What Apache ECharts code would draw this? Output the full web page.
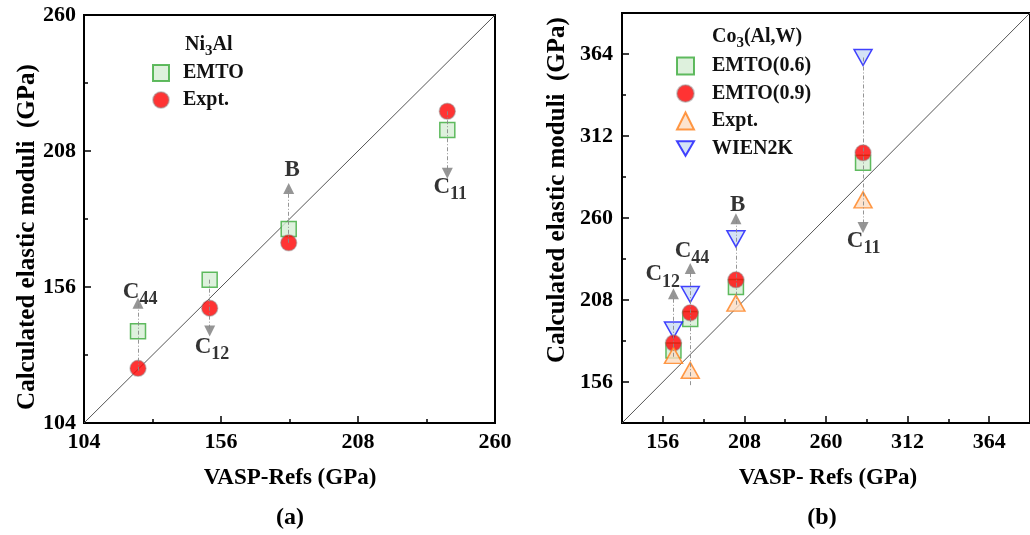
<!DOCTYPE html>
<html>
<head>
<meta charset="utf-8">
<script src="https://cdn.jsdelivr.net/npm/echarts@6/dist/echarts.min.js"></script>
<style>
html,body{margin:0;padding:0;background:#fff;}
#chart{width:1030px;height:535px;}
</style>
</head>
<body>
<div id="chart"></div>
<script>
// ---------- data: panel (a) Ni3Al ----------
const leftTicks = [104, 156, 208, 260];
const leftX = [124.5, 151.7, 181.7, 241.9];
const leftEMTO = [139.1, 158.8, 178.2, 216.0];
const leftExpt = [124.9, 147.9, 172.9, 223.2];
const leftArrowFrom = [124.0, 158.8, 172.9, 223.2];
const leftArrowTo = [149.8, 139.2, 193.7, 199.5];
const leftLabelMain = ['C', 'C', 'B', 'C'];
const leftLabelSub = ['44', '12', '', '11'];
const leftLabelX = [125.3, 152.6, 183.0, 243.0];
const leftLabelY = [154.2, 133.2, 200.7, 194.4];

// ---------- data: panel (b) Co3(Al,W) ----------
const rightMajorTicks = [156, 208, 260, 312, 364];
const rightMinorTicks = [182, 234, 286, 338];
const rightX = [162.8, 173.5, 202.6, 283.6];
const rightEMTO06 = [176.0, 196.0, 216.2, 295.0];
const rightEMTO09 = [180.7, 199.9, 220.8, 301.3];
const rightExpt = [172.9, 163.4, 206.0, 271.5];
const rightWIEN = [189.0, 211.5, 246.8, 361.8];
const rightArrowFrom = [172.0, 154.0, 205.0, 361.8];
const rightArrowTo = [212.0, 228.0, 259.6, 254.0];
const rightLabelMain = ['C', 'C', 'B', 'C'];
const rightLabelSub = ['12', '44', '', '11'];
const rightLabelX = [156.0, 174.6, 203.7, 284.0];
const rightLabelY = [224.2, 239.0, 268.0, 245.3];

const FONT = 'Liberation Serif';

const pairs = (xs, ys) => xs.map((x, i) => [x, ys[i]]);

function arrowSeries(xs, from, to, xi) {
  return {
    type: 'lines', coordinateSystem: 'cartesian2d', xAxisIndex: xi, yAxisIndex: xi === 0 ? 0 : 1,
    z: 8, silent: true,
    symbol: ['none', 'triangle'], symbolSize: [6, 11],
    lineStyle: { color: '#8a8a8a', width: 1, type: [4, 2, 1, 2], opacity: 0.9 },
    data: xs.map((x, i) => ({ coords: [[x, from[i]], [x, to[i]]] }))
  };
}

function labelSeries(xs, ys, mains, subs, xi) {
  return {
    type: 'scatter', xAxisIndex: xi, yAxisIndex: xi === 0 ? 0 : 1, z: 9, silent: true,
    symbolSize: 1, itemStyle: { color: 'rgba(0,0,0,0)' },
    data: pairs(xs, ys),
    label: {
      show: true, position: 'inside',
      formatter: p => '{m|' + mains[p.dataIndex] + '}' + (subs[p.dataIndex] ? '{s|' + subs[p.dataIndex] + '}' : ''),
      rich: {
        m: { fontFamily: FONT, fontWeight: 'bold', fontSize: 23, color: '#000' },
        s: { fontFamily: FONT, fontWeight: 'bold', fontSize: 18, color: '#000', padding: [15, 0, 0, 0] }
      }
    }
  };
}

const squareStyle = { color: '#d6edd5', borderColor: '#3aaa3a', borderWidth: 1.5 };
const circleStyle = { color: '#ff0000', borderColor: 'rgba(140,140,140,0.55)', borderWidth: 1.5 };
const triUpStyle = { color: '#fbdcc2', borderColor: '#ff7f1a', borderWidth: 1.5 };
const triDownStyle = { color: '#c9dbf3', borderColor: '#1414ff', borderWidth: 1.5 };
const TRI_DOWN = 'path://M0,0L20,0L10,17.3Z';

const axisCommon = {
  axisLine: { show: true, onZero: false, lineStyle: { color: '#000', width: 2 } },
  splitLine: { show: false },
  axisLabel: { fontFamily: FONT, fontWeight: 'bold', fontSize: 22, color: '#000' }
};

const option = {
  animation: false,
  backgroundColor: '#fff',
  grid: [
    { left: 84, top: 15, width: 411, height: 408, show: true, borderColor: '#000', borderWidth: 2, backgroundColor: 'transparent' },
    { left: 622, top: 13, width: 411, height: 410, show: true, borderColor: '#000', borderWidth: 2, backgroundColor: 'transparent' }
  ],
  xAxis: [
    Object.assign({}, axisCommon, {
      type: 'value', gridIndex: 0, min: 104, max: 260, interval: 52,
      axisTick: { show: true, inside: true, length: 7, lineStyle: { color: '#000', width: 1.5 } },
      minorTick: { show: true, splitNumber: 2, length: 4, lineStyle: { color: '#000', width: 1.5 } },
      axisLabel: Object.assign({}, axisCommon.axisLabel, { margin: 8, customValues: leftTicks })
    }),
    Object.assign({}, axisCommon, {
      type: 'value', gridIndex: 1, min: 130, max: 390,
      axisTick: { show: true, inside: true, length: 7, customValues: rightMajorTicks, lineStyle: { color: '#000', width: 1.5 } },
      axisLabel: Object.assign({}, axisCommon.axisLabel, { margin: 8, customValues: rightMajorTicks })
    }),
    {
      type: 'value', gridIndex: 1, min: 130, max: 390, position: 'bottom',
      axisLine: { show: false }, splitLine: { show: false }, axisLabel: { show: false },
      axisTick: { show: true, inside: true, length: 4, customValues: rightMinorTicks, lineStyle: { color: '#000', width: 1.5 } }
    }
  ],
  yAxis: [
    Object.assign({}, axisCommon, {
      type: 'value', gridIndex: 0, min: 104, max: 260, interval: 52,
      axisTick: { show: true, inside: true, length: 7, lineStyle: { color: '#000', width: 1.5 } },
      minorTick: { show: true, splitNumber: 2, length: 4, lineStyle: { color: '#000', width: 1.5 } },
      axisLabel: Object.assign({}, axisCommon.axisLabel, { margin: 8, customValues: leftTicks })
    }),
    Object.assign({}, axisCommon, {
      type: 'value', gridIndex: 1, min: 130, max: 390,
      axisTick: { show: true, inside: true, length: 7, customValues: rightMajorTicks, lineStyle: { color: '#000', width: 1.5 } },
      axisLabel: Object.assign({}, axisCommon.axisLabel, { margin: 9, customValues: rightMajorTicks })
    }),
    {
      type: 'value', gridIndex: 1, min: 130, max: 390, position: 'left',
      axisLine: { show: false }, splitLine: { show: false }, axisLabel: { show: false },
      axisTick: { show: true, inside: true, length: 4, customValues: rightMinorTicks, lineStyle: { color: '#000', width: 1.5 } }
    }
  ],
  legend: [
    {
      left: 147, top: 58, orient: 'vertical', itemWidth: 16, itemHeight: 16, itemGap: 7,
      data: ['EMTO', 'Expt.'],
      formatter: n => '{t|' + n + '}',
      textStyle: { fontFamily: FONT, fontWeight: 'bold', fontSize: 20, color: '#111',
        rich: { t: { fontFamily: FONT, fontWeight: 'bold', fontSize: 20, color: '#111', padding: [0, 0, 0, 9] } } }
    },
    {
      left: 671, top: 51, orient: 'vertical', itemWidth: 17, itemHeight: 17, itemGap: 7.5,
      data: ['EMTO(0.6)', 'EMTO(0.9)', 'Expt.\u200b', 'WIEN2K'],
      formatter: n => '{t|' + n.replace('\u200b', '') + '}',
      textStyle: { fontFamily: FONT, fontWeight: 'bold', fontSize: 20, color: '#111',
        rich: { t: { fontFamily: FONT, fontWeight: 'bold', fontSize: 20, color: '#111', padding: [0, 0, 0, 13] } } }
    }
  ],
  graphic: [
    { type: 'text', x: 28, y: 237, rotation: Math.PI / 2,
      style: { text: 'Calculated elastic moduli  (GPa)', font: 'bold 25px "Liberation Serif"', fill: '#000', textAlign: 'center', textVerticalAlign: 'middle' } },
    { type: 'text', x: 558, y: 190, rotation: Math.PI / 2,
      style: { text: 'Calculated elastic moduli  (GPa)', font: 'bold 25px "Liberation Serif"', fill: '#000', textAlign: 'center', textVerticalAlign: 'middle' } },
    { type: 'text', x: 290, y: 478,
      style: { text: 'VASP-Refs (GPa)', font: 'bold 23px "Liberation Serif"', fill: '#000', textAlign: 'center', textVerticalAlign: 'middle' } },
    { type: 'text', x: 828, y: 478,
      style: { text: 'VASP- Refs (GPa)', font: 'bold 23px "Liberation Serif"', fill: '#000', textAlign: 'center', textVerticalAlign: 'middle' } },
    { type: 'text', x: 290, y: 518,
      style: { text: '(a)', font: 'bold 24px "Liberation Serif"', fill: '#000', textAlign: 'center', textVerticalAlign: 'middle' } },
    { type: 'text', x: 822, y: 518,
      style: { text: '(b)', font: 'bold 24px "Liberation Serif"', fill: '#000', textAlign: 'center', textVerticalAlign: 'middle' } },
    { type: 'text', x: 185, y: 45,
      style: { text: '{m|Ni}{s|3}{m|Al}', textAlign: 'left', textVerticalAlign: 'middle',
        rich: { m: { fontFamily: FONT, fontWeight: 'bold', fontSize: 20, fill: '#111' },
                s: { fontFamily: FONT, fontWeight: 'bold', fontSize: 15, fill: '#111', padding: [12, 0, 0, 0] } } } },
    { type: 'text', x: 712, y: 37,
      style: { text: '{m|Co}{s|3}{m|(Al,W)}', textAlign: 'left', textVerticalAlign: 'middle',
        rich: { m: { fontFamily: FONT, fontWeight: 'bold', fontSize: 20, fill: '#111' },
                s: { fontFamily: FONT, fontWeight: 'bold', fontSize: 15, fill: '#111', padding: [12, 0, 0, 0] } } } }
  ],
  series: [
    // diagonals
    { type: 'line', xAxisIndex: 0, yAxisIndex: 0, data: [[104, 104], [260, 260]], symbol: 'none', silent: true, z: 1,
      lineStyle: { color: '#555', width: 1 } },
    { type: 'line', xAxisIndex: 1, yAxisIndex: 1, data: [[130, 130], [390, 390]], symbol: 'none', silent: true, z: 1,
      lineStyle: { color: '#555', width: 1 } },
    // panel a
    { name: 'EMTO', type: 'scatter', xAxisIndex: 0, yAxisIndex: 0, symbol: 'rect', symbolSize: 15, z: 3,
      itemStyle: squareStyle, data: pairs(leftX, leftEMTO) },
    { name: 'Expt.', type: 'scatter', xAxisIndex: 0, yAxisIndex: 0, symbol: 'circle', symbolSize: 16, z: 5,
      itemStyle: circleStyle, data: pairs(leftX, leftExpt) },
    // panel b
    { name: 'EMTO(0.6)', type: 'scatter', xAxisIndex: 1, yAxisIndex: 1, symbol: 'rect', symbolSize: 15, z: 3,
      itemStyle: squareStyle, data: pairs(rightX, rightEMTO06) },
    { name: 'WIEN2K', type: 'scatter', xAxisIndex: 1, yAxisIndex: 1, symbol: TRI_DOWN, symbolSize: [18, 16], z: 4,
      itemStyle: triDownStyle, data: pairs(rightX, rightWIEN) },
    { name: 'EMTO(0.9)', type: 'scatter', xAxisIndex: 1, yAxisIndex: 1, symbol: 'circle', symbolSize: 16, z: 5,
      itemStyle: circleStyle, data: pairs(rightX, rightEMTO09) },
    { name: 'Expt.\u200b', type: 'scatter', xAxisIndex: 1, yAxisIndex: 1, symbol: 'triangle', symbolSize: [18, 16], z: 6,
      itemStyle: triUpStyle, data: pairs(rightX, rightExpt) },
    // arrows
    arrowSeries(leftX, leftArrowFrom, leftArrowTo, 0),
    arrowSeries(rightX, rightArrowFrom, rightArrowTo, 1),
    // labels
    labelSeries(leftLabelX, leftLabelY, leftLabelMain, leftLabelSub, 0),
    labelSeries(rightLabelX, rightLabelY, rightLabelMain, rightLabelSub, 1)
  ]
};

const chart = echarts.init(document.getElementById('chart'), null, { renderer: 'canvas' });
chart.setOption(option);
</script>
</body>
</html>
